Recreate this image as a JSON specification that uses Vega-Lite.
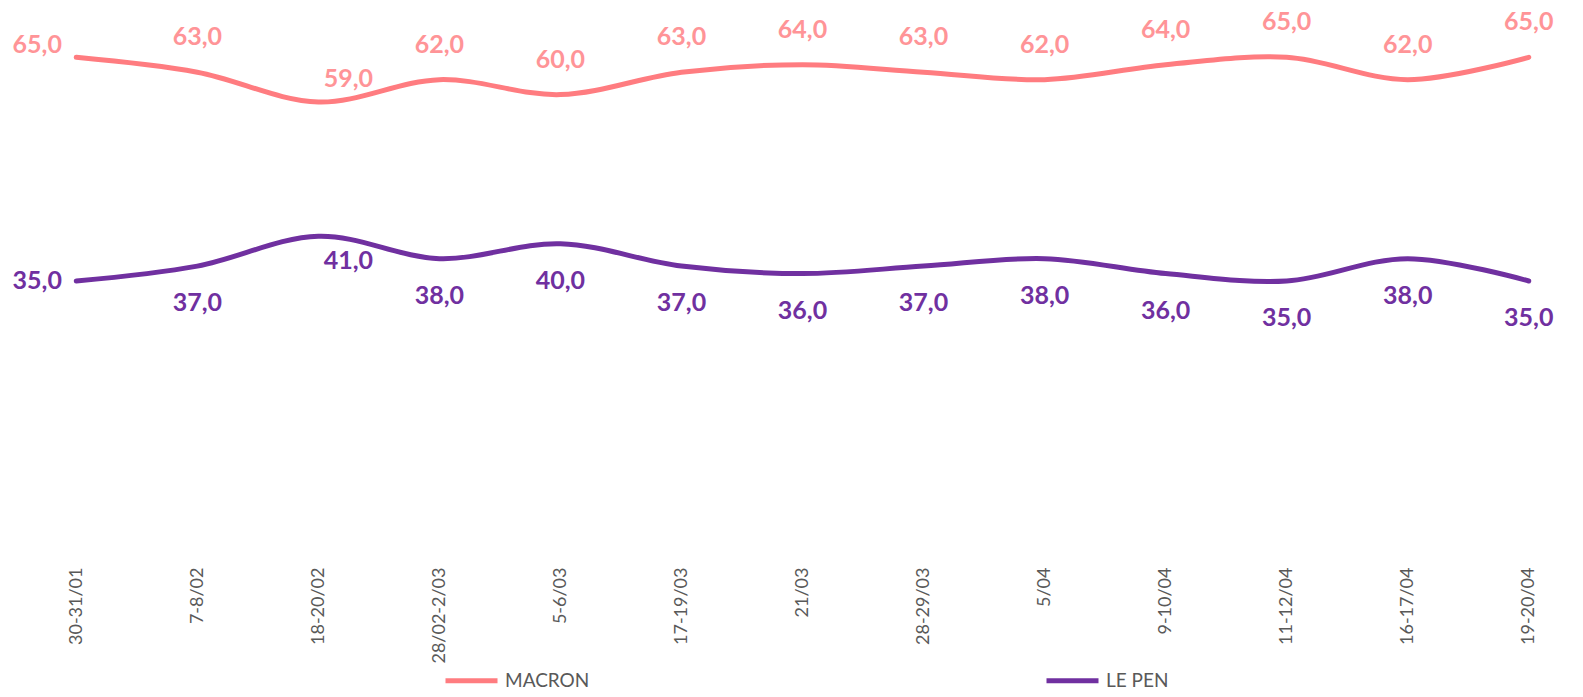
{
  "$schema": "https://vega.github.io/schema/vega-lite/v6.json",
  "width": 1513,
  "height": 522,
  "autosize": {"type": "none"},
  "padding": {"left": 46, "top": 20, "right": 24, "bottom": 155},
  "background": "white",
  "config": {
    "view": {"stroke": null},
    "font": "Lato",
    "locale": {"number": {"decimal": ",", "thousands": " ", "grouping": [3], "currency": ["", " €"]}}
  },
  "data": {
    "values": [
      {"date": "30-31/01", "candidate": "MACRON", "value": 65},
      {"date": "7-8/02", "candidate": "MACRON", "value": 63},
      {"date": "18-20/02", "candidate": "MACRON", "value": 59},
      {"date": "28/02-2/03", "candidate": "MACRON", "value": 62},
      {"date": "5-6/03", "candidate": "MACRON", "value": 60},
      {"date": "17-19/03", "candidate": "MACRON", "value": 63},
      {"date": "21/03", "candidate": "MACRON", "value": 64},
      {"date": "28-29/03", "candidate": "MACRON", "value": 63},
      {"date": "5/04", "candidate": "MACRON", "value": 62},
      {"date": "9-10/04", "candidate": "MACRON", "value": 64},
      {"date": "11-12/04", "candidate": "MACRON", "value": 65},
      {"date": "16-17/04", "candidate": "MACRON", "value": 62},
      {"date": "19-20/04", "candidate": "MACRON", "value": 65},
      {"date": "30-31/01", "candidate": "LE PEN", "value": 35},
      {"date": "7-8/02", "candidate": "LE PEN", "value": 37},
      {"date": "18-20/02", "candidate": "LE PEN", "value": 41},
      {"date": "28/02-2/03", "candidate": "LE PEN", "value": 38},
      {"date": "5-6/03", "candidate": "LE PEN", "value": 40},
      {"date": "17-19/03", "candidate": "LE PEN", "value": 37},
      {"date": "21/03", "candidate": "LE PEN", "value": 36},
      {"date": "28-29/03", "candidate": "LE PEN", "value": 37},
      {"date": "5/04", "candidate": "LE PEN", "value": 38},
      {"date": "9-10/04", "candidate": "LE PEN", "value": 36},
      {"date": "11-12/04", "candidate": "LE PEN", "value": 35},
      {"date": "16-17/04", "candidate": "LE PEN", "value": 38},
      {"date": "19-20/04", "candidate": "LE PEN", "value": 35}
    ]
  },
  "encoding": {
    "x": {
      "field": "date",
      "type": "ordinal",
      "sort": null,
      "scale": {"type": "point", "padding": 0.25},
      "axis": {
        "title": null,
        "labelAngle": -90,
        "labelFont": "Lato",
        "labelFontSize": 18,
        "labelColor": "#595959",
        "labelPadding": 25,
        "domain": false,
        "ticks": false,
        "labelOverlap": false
      }
    },
    "y": {
      "field": "value",
      "type": "quantitative",
      "scale": {"domain": [0, 70], "nice": false, "zero": true},
      "axis": null
    }
  },
  "layer": [
    {
      "mark": {"type": "line", "interpolate": "catmull-rom", "strokeWidth": 5, "strokeCap": "round"},
      "encoding": {
        "color": {
          "field": "candidate",
          "type": "nominal",
          "scale": {"domain": ["MACRON", "LE PEN"], "range": ["#FF7C80", "#7030A0"]},
          "legend": {
            "title": null,
            "orient": "none",
            "legendX": 397,
            "legendY": 632,
            "direction": "horizontal",
            "columns": 2,
            "columnPadding": 446,
            "symbolType": "stroke",
            "symbolSize": 2704,
            "symbolStrokeWidth": 5,
            "labelFont": "Lato",
            "labelFontSize": 19,
            "labelColor": "#595959",
            "labelOffset": 5
          }
        }
      }
    },
    {
      "transform": [{"filter": "datum.candidate == 'MACRON' && datum.date != '30-31/01' && datum.date != '18-20/02'"}],
      "mark": {"type": "text", "font": "Lato", "fontSize": 25, "fontWeight": "bold", "color": "#FF9497", "dy": -35, "baseline": "middle"},
      "encoding": {"text": {"field": "value", "type": "quantitative", "format": ".1f"}}
    },
    {
      "transform": [{"filter": "datum.candidate == 'MACRON' && datum.date == '30-31/01'"}],
      "mark": {"type": "text", "font": "Lato", "fontSize": 25, "fontWeight": "bold", "color": "#FF9497", "dx": -39, "dy": -12, "baseline": "middle"},
      "encoding": {"text": {"field": "value", "type": "quantitative", "format": ".1f"}}
    },
    {
      "transform": [{"filter": "datum.candidate == 'MACRON' && datum.date == '18-20/02'"}],
      "mark": {"type": "text", "font": "Lato", "fontSize": 25, "fontWeight": "bold", "color": "#FF9497", "dx": 30, "dy": -23, "baseline": "middle"},
      "encoding": {"text": {"field": "value", "type": "quantitative", "format": ".1f"}}
    },
    {
      "transform": [{"filter": "datum.candidate == 'LE PEN' && datum.date != '30-31/01' && datum.date != '18-20/02'"}],
      "mark": {"type": "text", "font": "Lato", "fontSize": 25, "fontWeight": "bold", "color": "#7030A0", "dy": 37, "baseline": "middle"},
      "encoding": {"text": {"field": "value", "type": "quantitative", "format": ".1f"}}
    },
    {
      "transform": [{"filter": "datum.candidate == 'LE PEN' && datum.date == '30-31/01'"}],
      "mark": {"type": "text", "font": "Lato", "fontSize": 25, "fontWeight": "bold", "color": "#7030A0", "dx": -39, "dy": 0, "baseline": "middle"},
      "encoding": {"text": {"field": "value", "type": "quantitative", "format": ".1f"}}
    },
    {
      "transform": [{"filter": "datum.candidate == 'LE PEN' && datum.date == '18-20/02'"}],
      "mark": {"type": "text", "font": "Lato", "fontSize": 25, "fontWeight": "bold", "color": "#7030A0", "dx": 30, "dy": 25, "baseline": "middle"},
      "encoding": {"text": {"field": "value", "type": "quantitative", "format": ".1f"}}
    }
  ]
}
